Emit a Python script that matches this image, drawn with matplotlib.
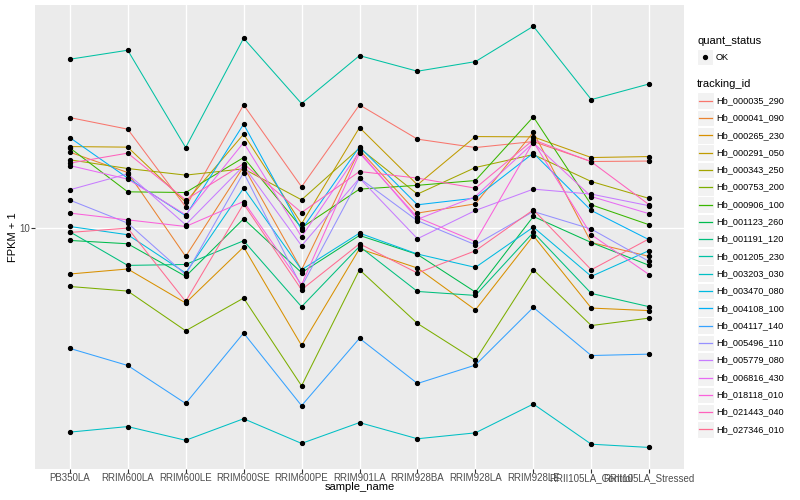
import matplotlib
matplotlib.use("Agg")
import matplotlib.pyplot as plt
import matplotlib.ticker as mticker
import numpy as np
from matplotlib.lines import Line2D
from matplotlib.patches import Rectangle

samples = ["PB350LA", "RRIM600LA", "RRIM600LE", "RRIM600SE", "RRIM600PE", "RRIM901LA",
           "RRIM928BA", "RRIM928LA", "RRIM928LE", "RRII105LA_Control", "RRII105LA_Stressed"]

# FPKM + 1 per tracking_id, one value per sample
hb_000035_290 = [27.62, 24.82, 12.13, 31.05, 14.59, 31.05, 22.64, 20.95, 22.14, 18.42, 18.50]
hb_000041_090 = [20.08, 16.64, 7.68, 17.59, 6.79, 20.51, 11.45, 12.47, 24.14, 8.73, 7.68]
hb_000265_230 = [6.53, 6.84, 5.00, 8.37, 3.38, 8.24, 6.90, 4.69, 9.29, 4.77, 4.66]
hb_000291_050 = [21.14, 21.03, 12.67, 23.70, 10.38, 25.19, 14.86, 23.18, 23.12, 19.11, 19.28]
hb_000343_250 = [18.71, 17.27, 16.25, 17.22, 12.94, 20.84, 13.64, 17.43, 19.64, 15.32, 13.10]
hb_000753_200 = [5.82, 5.58, 3.87, 5.23, 2.33, 6.79, 4.14, 2.95, 6.79, 4.06, 4.35]
hb_000906_100 = [20.89, 13.93, 13.84, 19.11, 10.00, 14.28, 14.79, 15.46, 27.80, 12.36, 10.28]
hb_001123_260 = [8.90, 8.63, 6.39, 10.86, 6.61, 9.32, 7.82, 5.53, 11.10, 8.73, 7.07]
hb_001191_120 = [9.64, 7.07, 7.13, 8.87, 4.83, 8.42, 5.56, 5.36, 9.58, 5.46, 4.83]
hb_001205_230 = [47.29, 51.38, 20.95, 57.39, 31.42, 48.89, 42.34, 46.26, 64.09, 32.60, 37.67]
hb_003203_030 = [1.52, 1.60, 1.41, 1.72, 1.37, 1.66, 1.43, 1.51, 1.97, 1.36, 1.32]
hb_003470_080 = [10.12, 9.38, 6.59, 14.41, 6.79, 9.52, 7.85, 6.94, 10.06, 6.39, 8.11]
hb_004108_100 = [22.97, 15.81, 11.17, 25.99, 9.82, 21.09, 12.36, 13.15, 19.90, 11.73, 8.95]
hb_004117_140 = [3.29, 2.81, 1.98, 3.79, 1.94, 3.61, 2.38, 2.82, 4.80, 3.08, 3.12]
hb_005496_110 = [12.91, 10.44, 6.49, 16.64, 5.81, 15.81, 10.67, 8.55, 11.62, 9.88, 7.33]
hb_005779_080 = [14.19, 16.44, 10.28, 17.70, 8.47, 15.81, 9.04, 11.73, 14.28, 13.64, 12.25]
hb_006816_430 = [17.75, 15.66, 11.27, 21.94, 9.20, 20.19, 10.81, 13.34, 21.88, 13.34, 11.38]
hb_018118_010 = [11.45, 10.76, 10.12, 12.74, 5.92, 19.90, 11.00, 8.81, 22.08, 9.38, 6.49]
hb_021443_040 = [18.15, 19.90, 12.94, 18.03, 11.51, 16.80, 15.81, 14.41, 22.49, 18.37, 12.36]
hb_027346_010 = [9.58, 9.97, 5.07, 12.47, 5.65, 8.63, 6.59, 8.09, 11.80, 6.79, 9.04]

ids = ["Hb_000035_290", "Hb_000041_090", "Hb_000265_230", "Hb_000291_050", "Hb_000343_250",
       "Hb_000753_200", "Hb_000906_100", "Hb_001123_260", "Hb_001191_120", "Hb_001205_230",
       "Hb_003203_030", "Hb_003470_080", "Hb_004108_100", "Hb_004117_140", "Hb_005496_110",
       "Hb_005779_080", "Hb_006816_430", "Hb_018118_010", "Hb_021443_040", "Hb_027346_010"]
series = [hb_000035_290, hb_000041_090, hb_000265_230, hb_000291_050, hb_000343_250,
          hb_000753_200, hb_000906_100, hb_001123_260, hb_001191_120, hb_001205_230,
          hb_003203_030, hb_003470_080, hb_004108_100, hb_004117_140, hb_005496_110,
          hb_005779_080, hb_006816_430, hb_018118_010, hb_021443_040, hb_027346_010]

colors = ["#F8766D", "#EA8331", "#D89000", "#C09B00", "#A3A500", "#7CAE00", "#39B600", "#00BB4E",
          "#00BF7D", "#00C1A3", "#00BFC4", "#00BAE0", "#00B0F6", "#35A2FF", "#9590FF", "#C77CFF",
          "#E76BF3", "#FA62DB", "#FF62BC", "#FF6C91"]

plt.rcParams['font.family'] = ['Liberation Sans', 'DejaVu Sans']
fig = plt.figure(figsize=(8, 5), dpi=100)
W, H = 800, 500
ax_left, ax_right, ax_top, ax_bottom = 35, 684, 5.2, 468.5
ax = fig.add_axes([ax_left / W, 1 - ax_bottom / H, (ax_right - ax_left) / W, (ax_bottom - ax_top) / H])
ax.set_facecolor("#EBEBEB")
x = np.arange(len(samples))
for vals, col in zip(series, colors):
    ax.plot(x, vals, color=col, lw=0.75, zorder=2)
for vals in series:
    ax.plot(x, vals, ls="none", marker="o", ms=2.8, color="black", zorder=3)

ax.set_yscale("log")
allv = np.log10(np.array(series, dtype=float).ravel())
lo, hi = allv.min(), allv.max()
pad = 0.05 * (hi - lo)
ax.set_ylim(10 ** (lo - pad), 10 ** (hi + pad))
ax.set_xlim(-0.6, len(samples) - 0.4)
ax.set_yticks([10])
ax.set_yticklabels(["10"])
ax.yaxis.set_minor_locator(mticker.NullLocator())
ax.set_xticks(x)
ax.set_xticklabels(samples)
ax.grid(True, color="white", lw=1.0, zorder=0)
ax.set_axisbelow(True)
for s in ax.spines.values():
    s.set_visible(False)
ax.tick_params(axis="both", length=3, color="#333333", labelsize=7, labelcolor="#4D4D4D", pad=0.5)
ax.set_xlabel("sample_name", fontsize=8)
ax.set_ylabel("FPKM + 1", fontsize=8)
ax.xaxis.set_label_coords(0.5, -(487 - ax_bottom) / (ax_bottom - ax_top))
ax.yaxis.set_label_coords(-(ax_left - 13) / (ax_right - ax_left), 0.5)
ax.xaxis.label.set_va("center")
ax.yaxis.label.set_va("center")

# legends
def fy(py):
    return 1 - py / H

def fx(px):
    return px / W

fig.text(fx(697), fy(41), "quant_status", fontsize=8, va="center", ha="left")
fig.patches.append(Rectangle((fx(697), fy(65)), 16 / W, 16 / H, transform=fig.transFigure,
                             facecolor="#F2F2F2", edgecolor="white", lw=0.8))
fig.lines.append(Line2D([fx(705)], [fy(57)], transform=fig.transFigure, marker="o", ms=2.8,
                        color="black"))
fig.text(fx(716), fy(57), "OK", fontsize=6.6, va="center", ha="left")
fig.text(fx(697), fy(84), "tracking_id", fontsize=8, va="center", ha="left")
for i, (tid, col) in enumerate(zip(ids, colors)):
    cy = 100.7 + 17.3 * i
    fig.patches.append(Rectangle((fx(697), fy(cy + 8.3)), 16.6 / W, 16.6 / H,
                                 transform=fig.transFigure,
                                 facecolor="#F2F2F2", edgecolor="white", lw=0.8))
    fig.lines.append(Line2D([fx(699), fx(712)], [fy(cy), fy(cy)], transform=fig.transFigure,
                            color=col, lw=0.9))
    fig.text(fx(716), fy(cy), tid, fontsize=6.6, va="center", ha="left")

fig.savefig("out.png", dpi=100)
